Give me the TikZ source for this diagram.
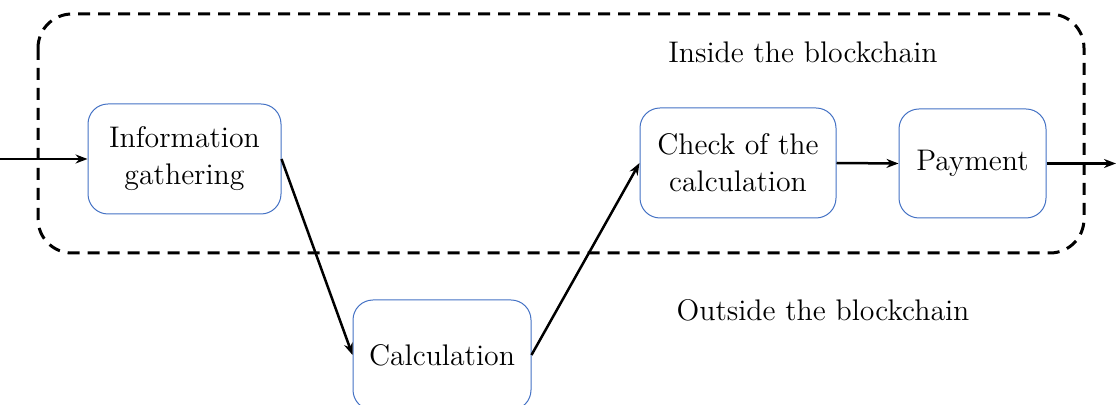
\documentclass[tikz,border=0pt]{standalone}
\usetikzlibrary{arrows.meta}
\definecolor{boxblue}{HTML}{4472C4}
\tikzset{
  procbox/.style={draw=boxblue, line width=0.5pt, rounded corners=10pt, inner sep=0pt, align=center,
    font=\fontsize{14.9}{18.5}\selectfont},
  flow/.style={line width=1.25pt, -{Stealth[length=6pt,width=4.5pt]}},
  zone/.style={draw, line width=1.5pt, dash pattern=on 6pt off 4pt, rounded corners=17pt},
  lbl/.style={font=\fontsize{14.9}{18.5}\selectfont, inner sep=0pt}
}
\begin{document}
\begin{tikzpicture}[x=0.5pt,y=-0.5pt]
\useasboundingbox (0,0) rectangle (1116,405);
\draw[zone] (38,14) rectangle (1084,253);
\node[lbl] (inside) at (803,52) {Inside the blockchain};
\node[lbl] (outside) at (823,310) {Outside the blockchain};
\node[procbox, minimum width=96.5pt, minimum height=55pt] (info) at (184.5,159) {Information\\gathering};
\node[procbox, minimum width=89pt, minimum height=55pt] (calc) at (442,355) {Calculation};
\node[procbox, minimum width=98pt, minimum height=55pt] (check) at (738,163) {Check of the\\calculation};
\node[procbox, minimum width=73.5pt, minimum height=54.5pt] (pay) at (972.5,163.5) {Payment};
\coordinate (in) at (0,159);
\coordinate (out) at (1116,163.5);
\draw[flow] (in) -- (info.west);
\draw[flow] (info.east) -- (calc.west);
\draw[flow] (calc.east) -- (check.west);
\draw[flow] (check.east) -- (pay.west);
\draw[flow] (pay.east) -- (out);
\end{tikzpicture}
\end{document}
